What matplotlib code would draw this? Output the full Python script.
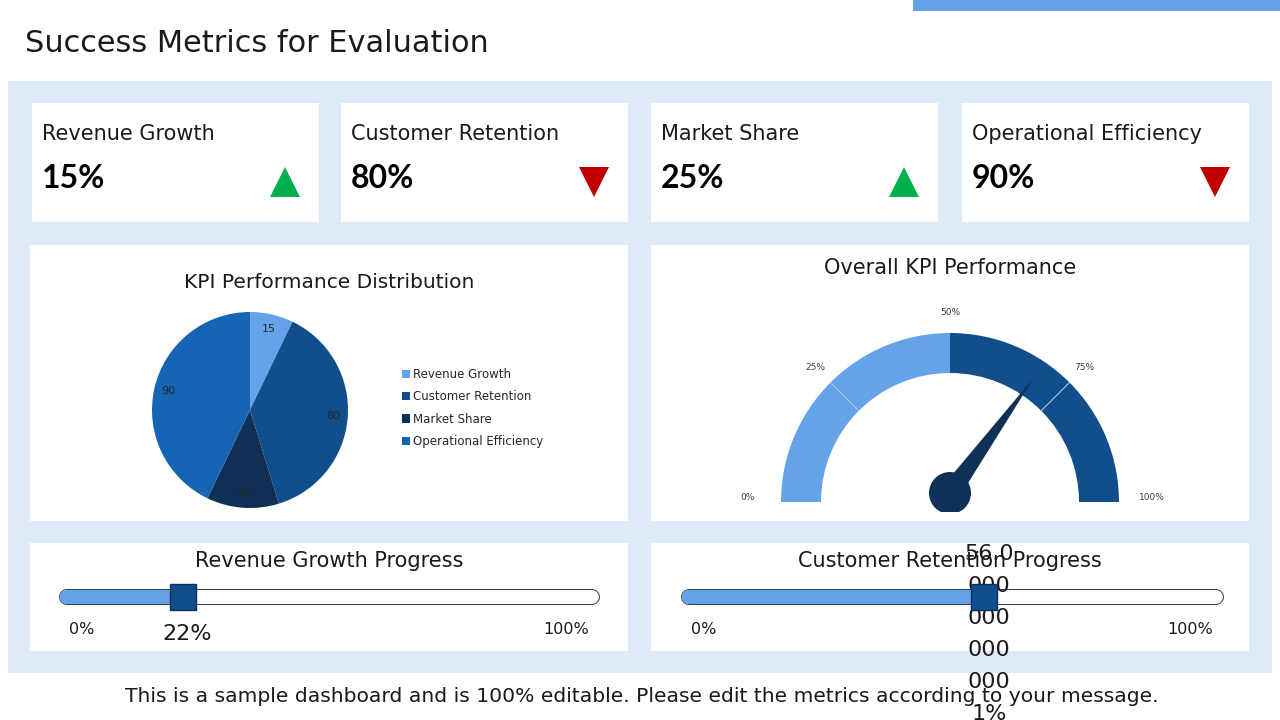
import matplotlib
matplotlib.use("Agg")
import matplotlib.pyplot as plt
from matplotlib.patches import Rectangle, Wedge, Polygon, Circle
import numpy as np

# ---- data ----
kpi_names = ["Revenue Growth", "Customer Retention", "Market Share", "Operational Efficiency"]
kpi_values = [15, 80, 25, 90]
kpi_trend = ["up", "down", "up", "down"]

pie_labels = kpi_names
pie_values = [15, 80, 25, 90]
pie_colors = ["#65A3E8", "#124E8C", "#0F2F57", "#1664B4"]

gauge_bands = [0, 50, 100]
gauge_band_colors = ["#65A3E8", "#124E8C"]
gauge_ticks = [0, 25, 50, 75, 100]
gauge_value = 70

progress_titles = ["Revenue Growth Progress", "Customer Retention Progress"]
progress_values = [22, 56.0000000000001]
progress_labels = ["22%", "56.0\n000\n000\n000\n000\n1%"]

LIGHT = "#65A3E8"
DARK = "#124E8C"
NAVY = "#0F3057"
PANEL = "#DFEAF8"
INK = "#1a1a1a"

plt.rcParams["font.family"] = "DejaVu Sans"

W, H = 1280, 720
fig = plt.figure(figsize=(12.8, 7.2), dpi=100)
bg = fig.add_axes([0, 0, 1, 1])
bg.set_xlim(0, W)
bg.set_ylim(H, 0)
bg.axis("off")


def px_axes(x0, y0, x1, y1):
    return fig.add_axes([x0 / W, 1 - y1 / H, (x1 - x0) / W, (y1 - y0) / H])


# ---- page frame ----
bg.add_patch(Rectangle((913, 0), 367, 11, color=LIGHT, lw=0))
bg.text(25, 44, "Success Metrics for Evaluation", fontsize=21.9, color=INK,
        ha="left", va="center")
bg.add_patch(Rectangle((8, 81), 1264, 592, color=PANEL, lw=0))

# ---- KPI cards ----
card_x = [32, 341, 651, 962]
for x, name, val, trend in zip(card_x, kpi_names, kpi_values, kpi_trend):
    bg.add_patch(Rectangle((x, 103), 287, 119, color="white", lw=0))
    bg.text(x + 10, 134, name, fontsize=15, color=INK, ha="left", va="center")
    bg.text(x + 10, 179, f"{val}%", fontsize=23, color="black", family="Lato",
            weight="bold", ha="left", va="center")
    if trend == "up":
        bg.plot(x + 253, 182, marker="^", ms=22, color="#00B050", mew=0)
    else:
        bg.plot(x + 253, 182, marker="v", ms=22, color="#C00000", mew=0)

# ---- chart panels ----
for (x, y, w, h) in [(30, 245, 598, 276), (651, 245, 598, 276),
                     (30, 543, 598, 108), (651, 543, 598, 108)]:
    bg.add_patch(Rectangle((x, y), w, h, color="white", lw=0))

bg.text(329, 282, "KPI Performance Distribution", fontsize=14.5, color=INK,
        ha="center", va="center")
bg.text(950, 268, "Overall KPI Performance", fontsize=15, color=INK,
        ha="center", va="center")

# ---- pie ----
pie_ax = px_axes(152, 312, 348, 508)
total = sum(pie_values)
wedges, _, autotexts = pie_ax.pie(
    pie_values, colors=pie_colors, startangle=90, counterclock=False,
    radius=1, autopct=lambda p: f"{p * total / 100:.0f}", pctdistance=0.85,
    wedgeprops=dict(linewidth=0), textprops=dict(fontsize=8, color="#262626"))
pie_ax.set_xlim(-1, 1)
pie_ax.set_ylim(-1, 1)
pie_ax.set_aspect("equal")
pie_ax.axis("off")
pie_ax.legend(wedges, pie_labels, loc="center left",
              bbox_to_anchor=(396 / W, 1 - 408 / H), bbox_transform=fig.transFigure,
              frameon=False, fontsize=8.5, handlelength=0.7, handleheight=0.7,
              handletextpad=0.2, labelspacing=0.78, borderpad=0,
              labelcolor="#262626")

# ---- gauge ----
g_ax = px_axes(760, 300, 1140, 512)
g_ax.set_xlim(-190, 190)
g_ax.set_ylim(-10, 202)
g_ax.set_aspect("equal")
g_ax.axis("off")
R_OUT, R_IN = 169, 129


def ang(v):
    return 180 - v * 1.8


for a, b, c in zip(gauge_bands[:-1], gauge_bands[1:], gauge_band_colors):
    g_ax.add_patch(Wedge((0, 0), R_OUT, ang(b), ang(a), width=R_OUT - R_IN,
                         color=c, lw=0))
for t in gauge_ticks:
    th = np.radians(ang(t))
    if 0 < t < 100 and t != 50:
        g_ax.plot([R_IN * np.cos(th), R_OUT * np.cos(th)],
                  [R_IN * np.sin(th), R_OUT * np.sin(th)],
                  color="#A9CBF0", lw=0.8)
    r = 202 if t in (0, 100) else 190
    g_ax.text(r * np.cos(th), r * np.sin(th) + (5 if t in (0, 100) else 0),
              f"{t}%", fontsize=6.5, color="#404040", ha="center", va="center")

hub = np.array([0, 9])
th = np.radians(ang(gauge_value))
d = np.array([np.cos(th), np.sin(th)])
n = np.array([-d[1], d[0]])
tip = hub + 143 * d
g_ax.add_patch(Polygon([hub + 10 * n, tip, hub - 10 * n], closed=True,
                       color=NAVY, lw=0))
g_ax.add_patch(Circle(hub, 21, color=NAVY, lw=0))

# ---- progress bars ----
bar_px = [(67, 592, 329), (689, 1216, 950)]
for (x0, x1, cx), title, val, lab in zip(bar_px, progress_titles,
                                         progress_values, progress_labels):
    bg.text(cx, 561, title, fontsize=15, color=INK, ha="center", va="center")
    ax = px_axes(x0, 581, x1, 613)
    ax.set_xlim(0, 100)
    ax.set_ylim(0, 1)
    ax.axis("off")
    ax.plot([0, 100], [0.5, 0.5], color="#1F3C5E", lw=11.5,
            solid_capstyle="round", clip_on=False)
    ax.plot([0, 100], [0.5, 0.5], color="white", lw=10.1,
            solid_capstyle="round", clip_on=False)
    ax.plot([0, val], [0.5, 0.5], color=LIGHT, lw=10.1,
            solid_capstyle="round", clip_on=False)
    ax.annotate("0%", (0, 0.5), xytext=(2, -32), textcoords="offset pixels",
                fontsize=11.5, color=INK, ha="left", va="center")
    ax.annotate("100%", (100, 0.5), xytext=(-3, -32), textcoords="offset pixels",
                fontsize=11.5, color=INK, ha="right", va="center")
    ax.annotate(lab, (val, 0.5), xytext=(5, -37), textcoords="offset pixels",
                fontsize=16, color=INK, ha="center", va="center",
                linespacing=1.75)
    # the slider knob sits above its label, as in the reference
    ax.plot(val, 0.5, marker="s", ms=18.5, color=DARK, mec="#0F2F57", mew=1,
            clip_on=False, zorder=5)

bg.text(642, 696, "This is a sample dashboard and is 100% editable. "
        "Please edit the metrics according to your message.",
        fontsize=14.6, color=INK, ha="center", va="center")

fig.savefig("out.png", dpi=100)
